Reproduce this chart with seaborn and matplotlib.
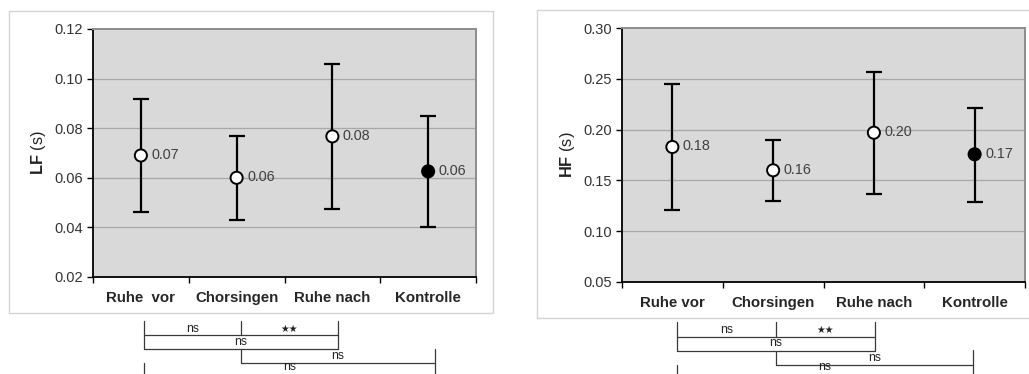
import numpy as np
import pandas as pd
import matplotlib
matplotlib.use("Agg")
import matplotlib.pyplot as plt
from matplotlib.patches import Rectangle
from matplotlib.lines import Line2D
import seaborn as sns

# ---------------- data ----------------
categories_lf = ["Ruhe  vor", "Chorsingen", "Ruhe nach", "Kontrolle"]
categories_hf = ["Ruhe vor", "Chorsingen", "Ruhe nach", "Kontrolle"]
groups = ["Test", "Test", "Test", "Kontrolle"]

lf_mean = [0.069, 0.060, 0.0767, 0.0626]
lf_upper = [0.0918, 0.0767, 0.1059, 0.0849]
lf_lower = [0.0463, 0.0431, 0.0475, 0.0403]
lf_labels = ["0.07", "0.06", "0.08", "0.06"]

hf_mean = [0.1829, 0.1599, 0.1970, 0.1757]
hf_upper = [0.2450, 0.1895, 0.2566, 0.2214]
hf_lower = [0.1207, 0.1296, 0.1368, 0.1289]
hf_labels = ["0.18", "0.16", "0.20", "0.17"]

sig_row1 = ["ns", "★★"]
sig_row2 = "ns"
sig_row3 = "ns"
sig_row4 = "ns"

# ---------------- style ----------------
sns.set_style("white")
plt.rcParams["font.family"] = ["Liberation Sans", "DejaVu Sans"]
plt.rcParams["mathtext.fontset"] = "custom"
plt.rcParams["mathtext.rm"] = "Liberation Sans"
plt.rcParams["mathtext.bf"] = "Liberation Sans:bold"

W, H = 1029, 374
fig = plt.figure(figsize=(W / 100, H / 100), dpi=100)
fig.patch.set_facecolor("white")


def fx(px):
    return px / W


def fy(py):
    return 1 - py / H


# outer chart boxes
for (x0, y0, x1, y1) in [(9, 11, 493, 313), (537, 10, 1032, 318)]:
    fig.add_artist(Rectangle((fx(x0), fy(y1)), fx(x1 - x0), (y1 - y0) / H,
                             transform=fig.transFigure, fill=False,
                             edgecolor="#d4d4d4", linewidth=1.0))


def make_panel(rect, cats, mean, lower, upper, labels, ylim, yticks, ylabel, labx):
    ax = fig.add_axes(rect)
    ax.set_facecolor("#d9d9d9")
    df = pd.DataFrame({"cat": cats, "val": mean, "grp": groups})
    mean = np.array(mean)
    yerr = [mean - np.array(lower), np.array(upper) - mean]
    ax.errorbar(cats, mean, yerr=yerr, fmt="none", ecolor="black",
                elinewidth=1.6, capsize=5.5, capthick=1.6, zorder=2)
    sns.scatterplot(data=df, x="cat", y="val", hue="grp",
                    palette={"Test": "white", "Kontrolle": "black"},
                    edgecolor="black", linewidth=1.4, s=76, legend=False,
                    zorder=3, ax=ax)
    for i, (m, lab) in enumerate(zip(mean, labels)):
        ax.annotate(lab, (i, m), xytext=(7.5, 0.5), textcoords="offset points",
                    va="center", ha="left", fontsize=10.4, color="#404040")
    ax.set_xlim(-0.5, len(cats) - 0.5)
    ax.set_ylim(*ylim)
    ax.set_yticks(yticks)
    ax.yaxis.set_major_formatter(matplotlib.ticker.FormatStrFormatter("%.2f"))
    ax.set_xticks(range(len(cats)))
    ax.set_xticklabels(cats, fontweight="bold", fontsize=10.8)
    ax.set_xticks(np.arange(-0.5, len(cats), 1.0), minor=True)
    ax.tick_params(axis="x", which="major", length=0, pad=10)
    ax.tick_params(axis="x", which="minor", length=4, width=1, color="black",
                   direction="out", bottom=True)
    ax.tick_params(axis="y", length=4, width=1, color="black", direction="out",
                   labelsize=10.5, labelcolor="#333333", pad=3, left=True)
    for v in yticks[1:-1]:
        ax.axhline(v, color="#a8a8a8", linewidth=0.9, zorder=1)
    ax.grid(False)
    for s in ["top", "right"]:
        ax.spines[s].set_color("#8c8c8c")
        ax.spines[s].set_linewidth(1.4)
    for s in ["left", "bottom"]:
        ax.spines[s].set_color("black")
        ax.spines[s].set_linewidth(1.3)
    ax.set_xlabel("")
    ax.set_ylabel(r"$\bf{" + ylabel + r"}$ (s)", fontsize=11.8, color="#222222")
    ax.yaxis.set_label_coords(labx, 0.5)
    return ax


ax1 = make_panel([fx(93), fy(277), fx(476 - 93), (277 - 29) / H],
                 categories_lf, lf_mean, lf_lower, lf_upper, lf_labels,
                 (0.02, 0.12), [0.02, 0.04, 0.06, 0.08, 0.10, 0.12], "LF", -0.117)
ax2 = make_panel([fx(622), fy(281.7), fx(1025 - 622), (281.7 - 28.3) / H],
                 categories_hf, hf_mean, hf_lower, hf_upper, hf_labels,
                 (0.05, 0.30), [0.05, 0.10, 0.15, 0.20, 0.25, 0.30], "HF", -0.112)


# ---------------- significance brackets ----------------
def brackets(X, Y):
    X0, X1, X2, X3 = X
    Y0, Y1, Y2, Y3 = Y
    bottom = 380
    segs = [
        ((X0, Y0), (X0, Y2)), ((X1, Y0), (X1, Y1)), ((X2, Y0), (X2, Y2)),
        ((X0, Y1), (X2, Y1)), ((X0, Y2), (X2, Y2)),
        ((X1, Y2), (X1, Y3)), ((X3, Y2 - 0.5), (X3, bottom)), ((X1, Y3), (X3, Y3)),
        ((X0, Y3), (X0, bottom)),
    ]
    for (a, b), (c, d) in segs:
        fig.add_artist(Line2D([fx(a), fx(c)], [fy(b), fy(d)],
                              transform=fig.transFigure, color="#3a3a3a",
                              linewidth=0.9))
    kw = dict(transform=fig.transFigure, ha="center", va="center",
              fontsize=8.8, color="#222222",
              family=["Liberation Sans", "DejaVu Sans"])
    fig.text(fx((X0 + X1) / 2), fy((Y0 + Y1) / 2 + 0.5), sig_row1[0], **kw)
    fig.text(fx((X1 + X2) / 2), fy((Y0 + Y1) / 2 + 0.5), sig_row1[1],
             **{**kw, "fontsize": 7})
    fig.text(fx((X0 + X2) / 2), fy((Y1 + Y2) / 2), sig_row2, **kw)
    fig.text(fx((X1 + X3) / 2), fy((Y2 + Y3) / 2), sig_row3, **kw)
    fig.text(fx((X0 + X3) / 2), fy(min(Y3 + 5.5, 367.5)), sig_row4, **kw)


brackets([144, 241, 338, 435], [321, 335, 349, 362.5])
brackets([677, 776, 875, 973], [322, 336.5, 350.5, 365])

fig.savefig("out.png", dpi=100, facecolor="white")
